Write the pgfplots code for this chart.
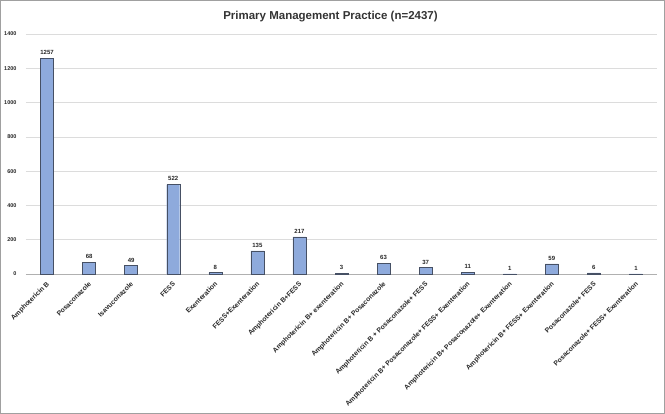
\documentclass[border=0pt]{standalone}
\usepackage{pgfplots}
\pgfplotsset{compat=1.18}
\usepackage{fontspec}
\setmainfont{Liberation Sans}
\definecolor{barfill}{RGB}{142,170,220}
\definecolor{baredge}{RGB}{70,80,100}
\definecolor{gridc}{RGB}{220,220,220}
\definecolor{framec}{RGB}{160,160,160}
\begin{document}
\begin{tikzpicture}
\begin{axis}[
  scale only axis,
  width=631pt, height=240pt,
  ymin=0, ymax=1400,
  ytick={0,200,...,1400},
  xmin=-0.5, xmax=14.5,
  xtick=data,
  xticklabels={Amphotericin B,Posaconazole,Isavuconazole,FESS,Exenteration,FESS+Exenteration,Amphotericin B+FESS,Amphotericin B+ exenteration,Amphotericin B+ Posaconazole,Amphotericin B + Posaconazole+ FESS,Amphotericin B+ Posaconazole+ FESS+ Exenteration,Amphotericin B+ Posaconazole+ Exenteration,Amphotericin B+ FESS+ Exenteration,Posaconazole+ FESS,Posaconazole+ FESS+ Exenteration},
  xticklabel style={xshift=-1pt, yshift=-7pt, rotate=45, anchor=north east, font=\fontsize{6.8}{7}\selectfont\bfseries, text=black!85, inner sep=0pt},
  yticklabel style={font=\fontsize{5.5}{6}\selectfont\bfseries, text=black!85, xshift=-6pt},
  /pgf/number format/assume math mode=true,
  /pgf/number format/1000 sep={},
  major tick length=0pt,
  axis y line*=left,
  y axis line style={draw=none},
  axis x line*=bottom,
  x axis line style={draw=gridc!80!black, line width=0.6pt},
  ymajorgrids, grid style={gridc, line width=0.6pt},
  ybar, bar width=13pt,
  nodes near coords,
  every node near coord/.append style={font=\fontsize{6}{7}\selectfont\bfseries, text=black!85},
  title={Primary Management Practice (n=2437)},
  title style={font=\fontsize{11.5}{13}\selectfont\bfseries, text=black!80, yshift=3pt, xshift=-11pt},
  clip=false,
]
\addplot[fill=barfill, draw=baredge, line width=0.4pt] coordinates {
  (0,1257) (1,68) (2,49) (3,522) (4,8) (5,135) (6,217) (7,3)
  (8,63) (9,37) (10,11) (11,1) (12,59) (13,6) (14,1)
};
\end{axis}
\draw[framec, line width=1pt] ([xshift=-25.5pt,yshift=-139.5pt]current axis.south west) rectangle ++(664pt,413pt);
\end{tikzpicture}
\end{document}
